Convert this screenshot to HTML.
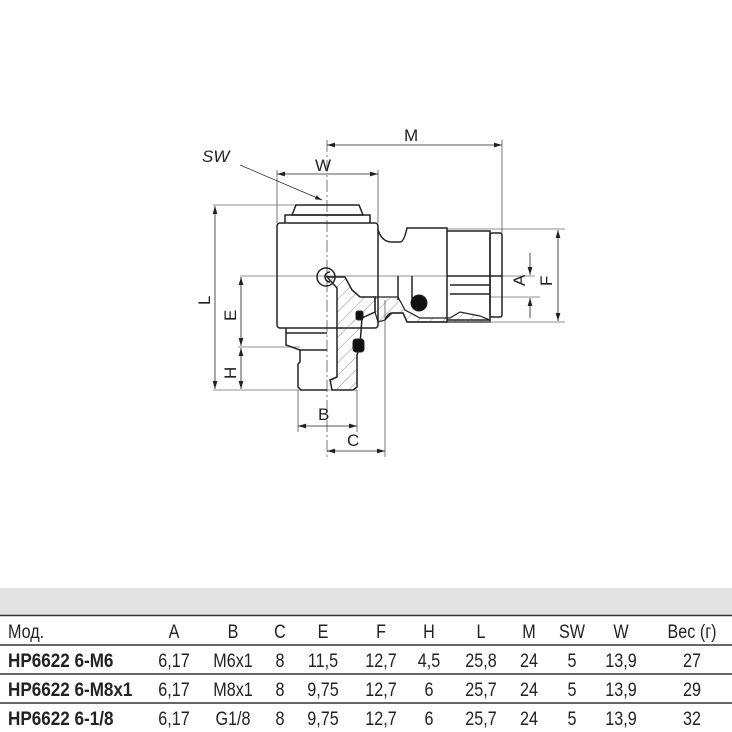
<!DOCTYPE html>
<html><head><meta charset="utf-8"><style>
body{margin:0;background:#fff;width:732px;height:732px;overflow:hidden;position:relative}
svg{position:absolute;left:0;top:0}
</style></head><body>
<svg width="732" height="732" viewBox="0 0 732 732" fill="none" stroke="#222" stroke-width="1">
<defs>
<pattern id="h" width="9" height="9" patternUnits="userSpaceOnUse" patternTransform="rotate(45)"><line x1="0" y1="0" x2="0" y2="9" stroke="#444" stroke-width="0.6"/></pattern>
<marker id="a" viewBox="0 0 10 6" refX="10" refY="3" markerWidth="10" markerHeight="6" orient="auto-start-reverse"><path d="M0,0L10,3L0,6z" fill="#222" stroke="none"/></marker>
</defs>
<line x1="327" y1="140" x2="327" y2="458" stroke-width="0.6" stroke-dasharray="12,3,2,3"/>
<line x1="240" y1="276" x2="535" y2="276" stroke-width="0.6"/>
<g stroke-width="0.6">
<line x1="213" y1="205" x2="327" y2="205"/>
<line x1="213" y1="390" x2="357" y2="390"/>
<line x1="238" y1="347" x2="300" y2="347"/>
<line x1="447" y1="229" x2="565" y2="229"/>
<line x1="447" y1="322" x2="565" y2="322"/>
<line x1="490" y1="297" x2="540" y2="297"/>
<line x1="277" y1="170" x2="277" y2="223"/>
<line x1="378" y1="170" x2="378" y2="223"/>
<line x1="502" y1="140" x2="502" y2="233"/>
<line x1="298" y1="390" x2="298" y2="432"/>
<line x1="357" y1="390" x2="357" y2="432"/>
<line x1="385" y1="300" x2="385" y2="457"/>
</g>
<g stroke-width="0.8" marker-start="url(#a)" marker-end="url(#a)">
<line x1="327" y1="145" x2="502" y2="145"/>
<line x1="277" y1="174" x2="378" y2="174"/>
<line x1="215" y1="206" x2="215" y2="389"/>
<line x1="241" y1="277" x2="241" y2="346"/>
<line x1="241" y1="348" x2="241" y2="389"/>
<line x1="298" y1="426" x2="357" y2="426"/>
<line x1="327" y1="451" x2="385" y2="451"/>
<line x1="558" y1="230" x2="558" y2="321"/>
</g>
<line x1="530" y1="253" x2="530" y2="275" stroke-width="0.8" marker-end="url(#a)"/>
<line x1="530" y1="318" x2="530" y2="298" stroke-width="0.8" marker-end="url(#a)"/>
<line x1="240" y1="165" x2="322" y2="200" stroke-width="0.7" marker-end="url(#a)"/>
<g fill="#222" stroke="none" font-family="Liberation Sans,sans-serif" font-size="17">
<text x="404" y="141">M</text>
<text x="315" y="171">W</text>
<text x="202" y="162" font-style="italic">SW</text>
<text x="318" y="420">B</text>
<text x="347" y="446">C</text>
<text transform="translate(210,305) rotate(-90)">L</text>
<text transform="translate(236,321) rotate(-90)">E</text>
<text transform="translate(236,379) rotate(-90)">H</text>
<text transform="translate(525,286) rotate(-90)">A</text>
<text transform="translate(552,286) rotate(-90)">F</text>
</g>
<g stroke-width="1.5">
<path d="M292,215 L296,205 L359,205 L363,215 Z"/>
<path d="M285,223 L285,215 L370,215 L370,223"/>
<rect x="277" y="223" width="101" height="105" rx="3"/>
<path d="M286,328 L286,345 L300,350 L300,362 L298,364 L298,387 L301,390 L327,390"/>
<line x1="286" y1="333" x2="327" y2="333"/>
<line x1="300" y1="350" x2="327" y2="350"/>
<circle cx="326" cy="277" r="9"/>
<path d="M330,272 A5,5 0 1 0 330,282"/>
<path d="M378,230 Q382,242 392,242 L400,242 Q404,242 407,228 L447,228 L447,322 L407,322 L403,313 L392,313 Q388,313 385,320"/>
<path d="M447,231 L490,231 L490,320 L447,320"/>
<rect x="490" y="233" width="12" height="84" rx="2"/>
<line x1="447" y1="276" x2="502" y2="276"/>
<line x1="450" y1="285" x2="490" y2="285"/>
<line x1="450" y1="294" x2="490" y2="294"/>
<line x1="398" y1="276" x2="398" y2="300"/>
<line x1="412" y1="276" x2="412" y2="300"/>
</g>
<path d="M327,277 L345,277 L352,290 L360,297 L375,297 L375,312 L362,318 L360,345 L357,355 L357,387 L353,390 L332,390 L330,380 L337,377 L337,288 Z" fill="url(#h)" stroke="#222" stroke-width="1.5"/>
<path d="M375,297 L398,297 L405,310 L420,318 L450,318 L460,312 L480,316 L490,320 L490,322 L407,322 L403,313 L392,313 L385,320 L378,322 L375,312 Z" fill="url(#h)" stroke="#222" stroke-width="1.2"/>
<circle cx="419" cy="303" r="8" fill="#111"/>
<rect x="356" y="311" width="7" height="9" rx="2" fill="#111"/>
<rect x="353" y="339" width="11" height="13" rx="3" fill="#111"/>

<rect x="0" y="588" width="732" height="27" fill="#e3e3e3" stroke="none"/>
<g stroke="#333" stroke-width="1.5">
<line x1="0" y1="615.5" x2="732" y2="615.5"/>
<line x1="0" y1="645" x2="732" y2="645"/>
<line x1="0" y1="674" x2="732" y2="674"/>
<line x1="0" y1="703" x2="732" y2="703"/>
</g>
<g fill="#222" stroke="none" font-family="Liberation Sans,sans-serif" font-size="19" text-anchor="middle">
<g transform="translate(0,638)">
<text transform="translate(8,0) scale(0.85,1)" text-anchor="start">Мод.</text>
<text transform="translate(174,0) scale(0.85,1)">A</text><text transform="translate(233,0) scale(0.85,1)">B</text><text transform="translate(280,0) scale(0.85,1)">C</text><text transform="translate(323,0) scale(0.85,1)">E</text><text transform="translate(381,0) scale(0.85,1)">F</text><text transform="translate(429,0) scale(0.85,1)">H</text><text transform="translate(481,0) scale(0.85,1)">L</text><text transform="translate(529,0) scale(0.85,1)">M</text><text transform="translate(572,0) scale(0.85,1)">SW</text><text transform="translate(621,0) scale(0.85,1)">W</text><text transform="translate(692,0) scale(0.85,1)">Вес (г)</text>
</g>
<g transform="translate(0,667)">
<text transform="translate(8,0) scale(0.9,1)" text-anchor="start" font-weight="bold">HP6622 6-M6</text>
<text transform="translate(174,0) scale(0.85,1)">6,17</text><text transform="translate(233,0) scale(0.85,1)">M6x1</text><text transform="translate(280,0) scale(0.85,1)">8</text><text transform="translate(323,0) scale(0.85,1)">11,5</text><text transform="translate(381,0) scale(0.85,1)">12,7</text><text transform="translate(429,0) scale(0.85,1)">4,5</text><text transform="translate(481,0) scale(0.85,1)">25,8</text><text transform="translate(529,0) scale(0.85,1)">24</text><text transform="translate(572,0) scale(0.85,1)">5</text><text transform="translate(621,0) scale(0.85,1)">13,9</text><text transform="translate(692,0) scale(0.85,1)">27</text>
</g>
<g transform="translate(0,696)">
<text transform="translate(8,0) scale(0.9,1)" text-anchor="start" font-weight="bold">HP6622 6-M8x1</text>
<text transform="translate(174,0) scale(0.85,1)">6,17</text><text transform="translate(233,0) scale(0.85,1)">M8x1</text><text transform="translate(280,0) scale(0.85,1)">8</text><text transform="translate(323,0) scale(0.85,1)">9,75</text><text transform="translate(381,0) scale(0.85,1)">12,7</text><text transform="translate(429,0) scale(0.85,1)">6</text><text transform="translate(481,0) scale(0.85,1)">25,7</text><text transform="translate(529,0) scale(0.85,1)">24</text><text transform="translate(572,0) scale(0.85,1)">5</text><text transform="translate(621,0) scale(0.85,1)">13,9</text><text transform="translate(692,0) scale(0.85,1)">29</text>
</g>
<g transform="translate(0,725)">
<text transform="translate(8,0) scale(0.9,1)" text-anchor="start" font-weight="bold">HP6622 6-1/8</text>
<text transform="translate(174,0) scale(0.85,1)">6,17</text><text transform="translate(233,0) scale(0.85,1)">G1/8</text><text transform="translate(280,0) scale(0.85,1)">8</text><text transform="translate(323,0) scale(0.85,1)">9,75</text><text transform="translate(381,0) scale(0.85,1)">12,7</text><text transform="translate(429,0) scale(0.85,1)">6</text><text transform="translate(481,0) scale(0.85,1)">25,7</text><text transform="translate(529,0) scale(0.85,1)">24</text><text transform="translate(572,0) scale(0.85,1)">5</text><text transform="translate(621,0) scale(0.85,1)">13,9</text><text transform="translate(692,0) scale(0.85,1)">32</text>
</g>
</g>
</svg>
</body></html>
